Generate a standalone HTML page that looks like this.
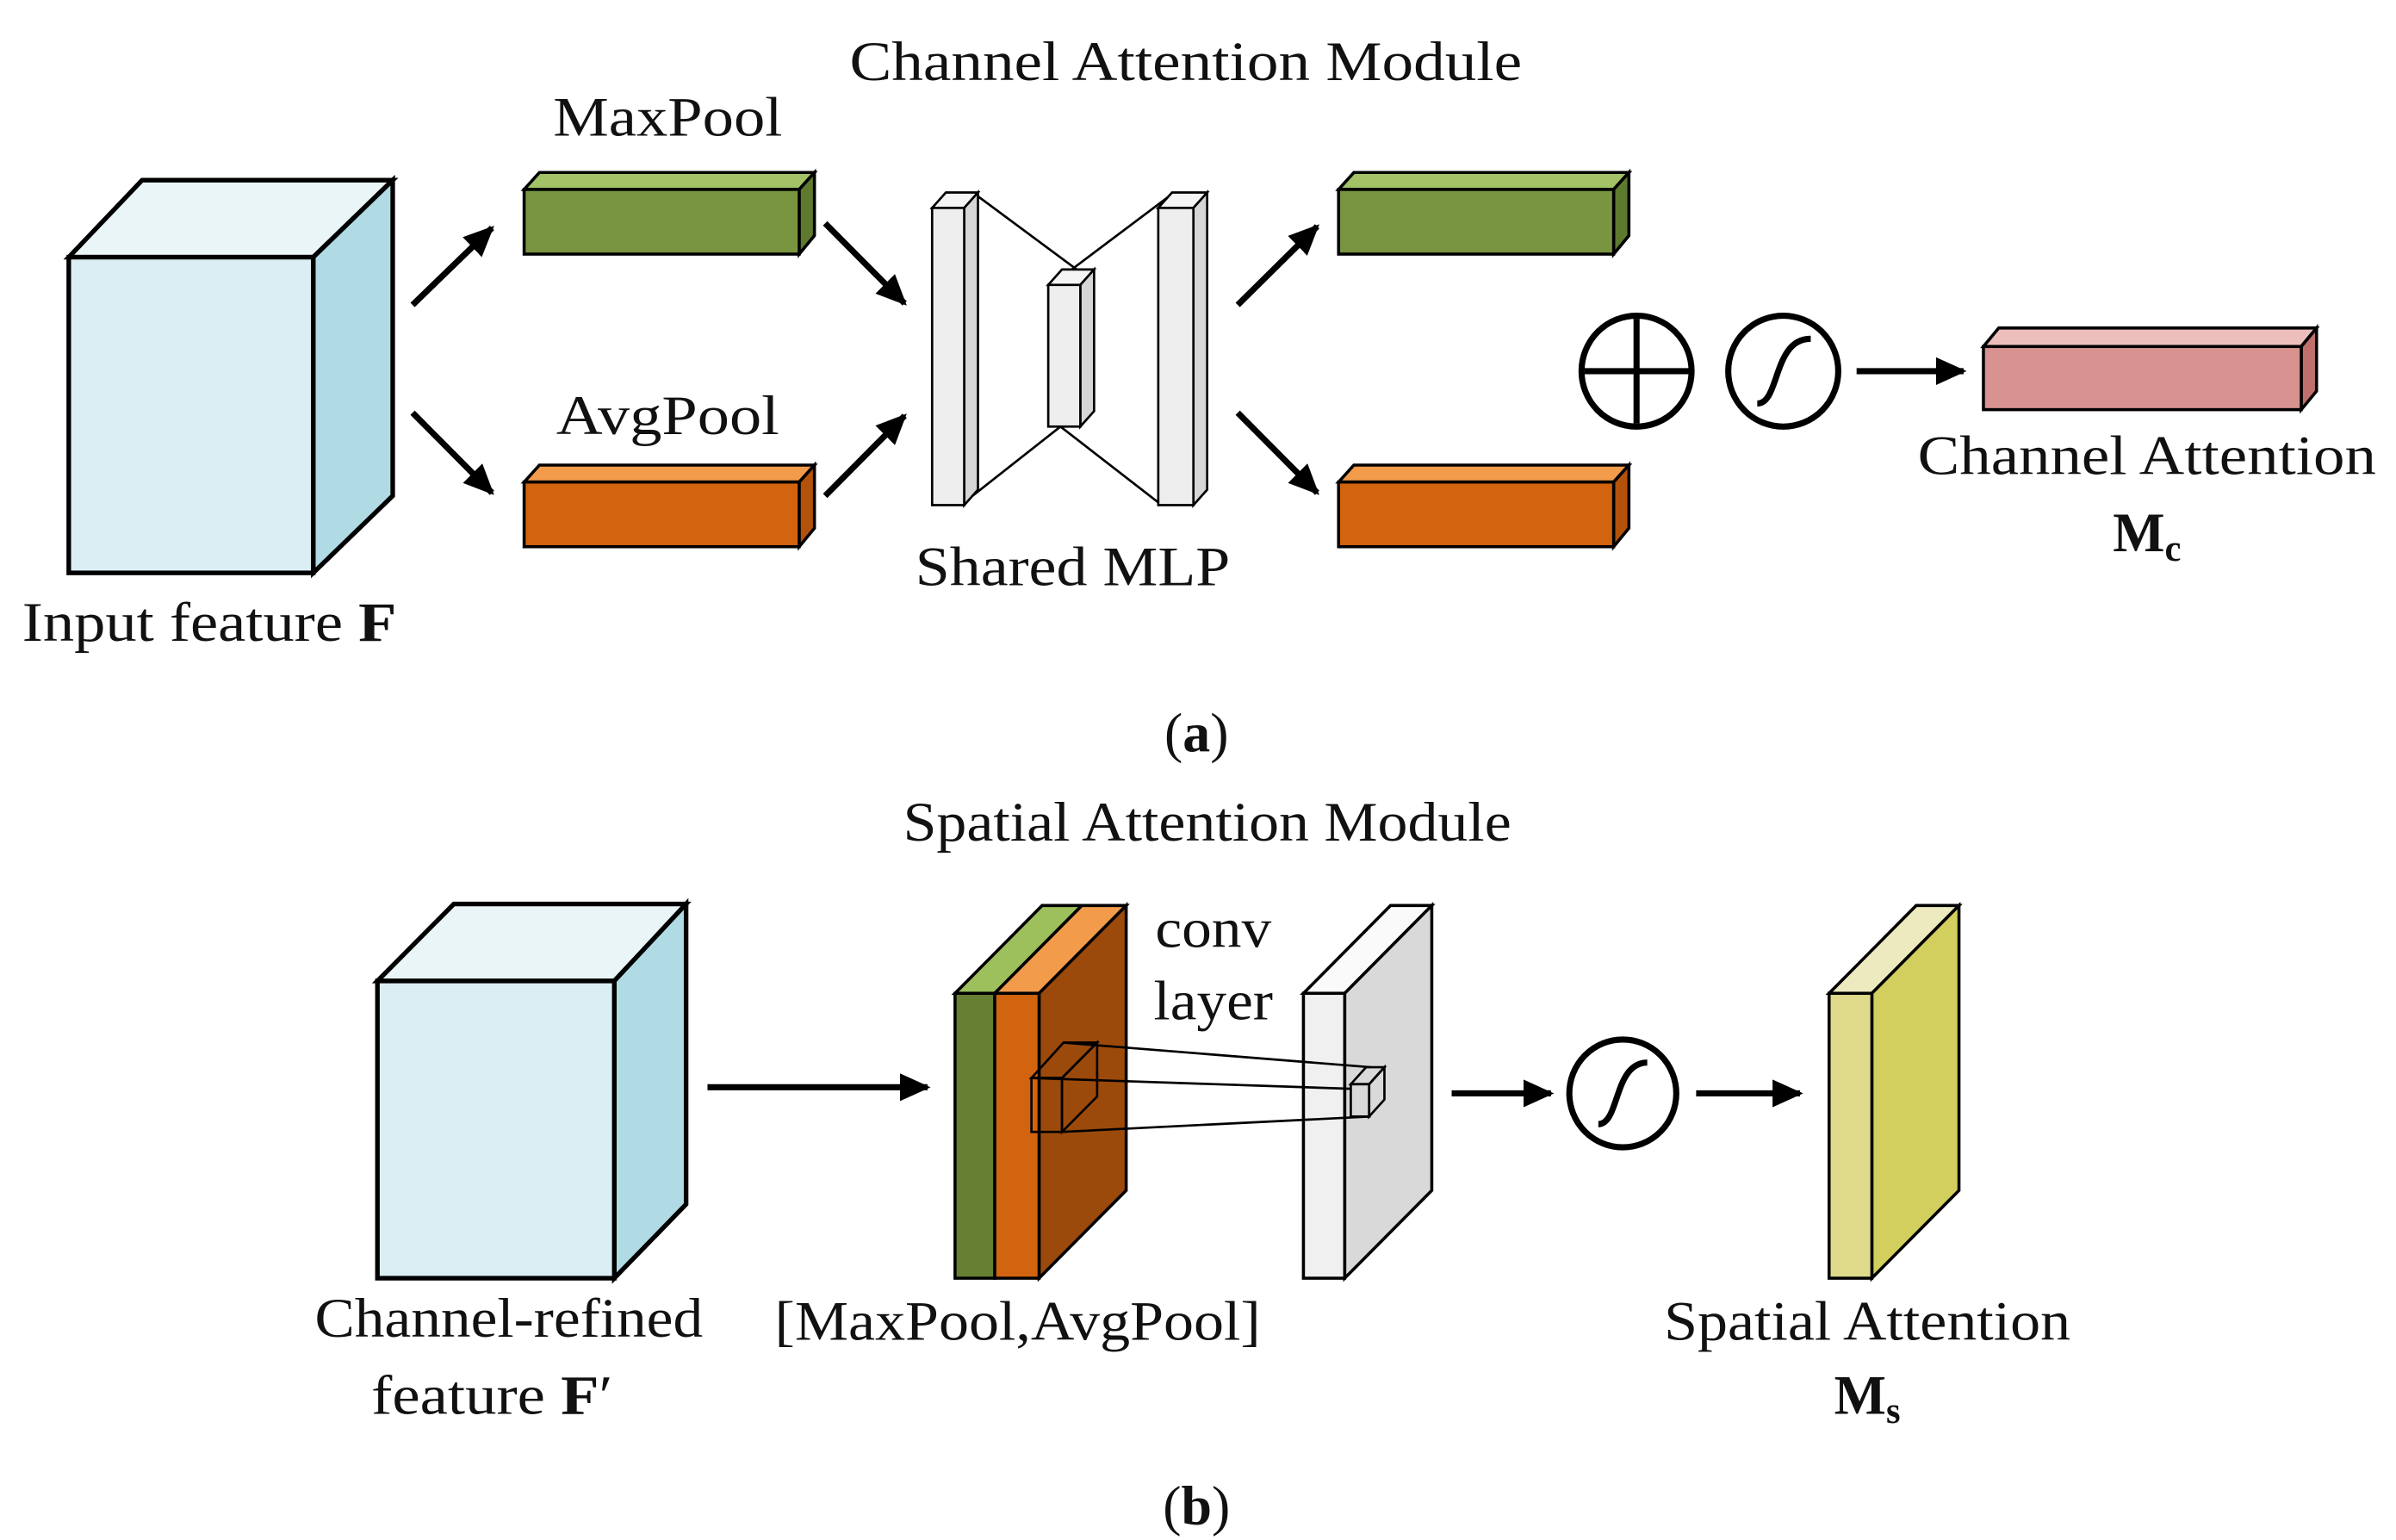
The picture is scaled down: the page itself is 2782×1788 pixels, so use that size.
<!DOCTYPE html>
<html><head><meta charset="utf-8"><style>html,body{margin:0;padding:0;background:#fff}svg{display:block}</style></head>
<body>
<svg width="2782" height="1788" viewBox="0 0 1568 1000" preserveAspectRatio="none" xmlns="http://www.w3.org/2000/svg">
<defs>
<marker id="ah" markerWidth="10" markerHeight="10" refX="7" refY="5" orient="auto" markerUnits="userSpaceOnUse" viewBox="0 0 10 10">
<path d="M0,0 L10,5 L0,10 Z" fill="#000"/></marker>
<marker id="ah2" markerWidth="20" markerHeight="18" refX="18" refY="9" orient="auto" markerUnits="userSpaceOnUse" viewBox="0 0 20 18">
<path d="M0,0 L20,9 L0,18 Z" fill="#000"/></marker>
</defs>
<g font-family="Liberation Serif, serif" font-size="36" fill="#111" text-anchor="middle">
<text x="776" y="52" textLength="440" lengthAdjust="spacingAndGlyphs">Channel Attention Module</text>
<text x="437" y="88" textLength="150" lengthAdjust="spacingAndGlyphs">MaxPool</text>
<text x="437" y="282" textLength="146" lengthAdjust="spacingAndGlyphs">AvgPool</text>
<text x="137" y="416" textLength="245" lengthAdjust="spacingAndGlyphs">Input feature <tspan font-weight="bold">F</tspan></text>
<text x="702" y="380" textLength="206" lengthAdjust="spacingAndGlyphs">Shared MLP</text>
<text x="1405" y="308" textLength="300" lengthAdjust="spacingAndGlyphs">Channel Attention</text>
<text x="1405" y="358" font-weight="bold">M<tspan font-size="24" dy="6">c</tspan></text>
<text x="783" y="488">(<tspan font-weight="bold">a</tspan>)</text>
<text x="790" y="546" textLength="398" lengthAdjust="spacingAndGlyphs">Spatial Attention Module</text>
<text x="333" y="868" textLength="254" lengthAdjust="spacingAndGlyphs">Channel-refined</text>
<text x="322" y="918" textLength="158" lengthAdjust="spacingAndGlyphs">feature <tspan font-weight="bold">F</tspan>′</text>
<text x="666" y="870" textLength="318" lengthAdjust="spacingAndGlyphs">[MaxPool,AvgPool]</text>
<text x="1222" y="870" textLength="266" lengthAdjust="spacingAndGlyphs">Spatial Attention</text>
<text x="1222" y="918" font-weight="bold">M<tspan font-size="24" dy="6">s</tspan></text>
<text x="783" y="990">(<tspan font-weight="bold">b</tspan>)</text>
<text x="794" y="615" textLength="76" lengthAdjust="spacingAndGlyphs">conv</text>
<text x="794" y="662" textLength="78" lengthAdjust="spacingAndGlyphs">layer</text>
</g>
<g stroke="#000" stroke-width="3" stroke-linejoin="miter">
<!-- big cube top -->
<polygon points="45,167 93,117 257,117 205,167" fill="#eaf5f8"/>
<polygon points="205,167 257,117 257,322 205,372" fill="#b0dbe5"/>
<rect x="45" y="167" width="160" height="205" fill="#dbeef4"/>
<!-- green bar -->
<g stroke-width="2">
<polygon points="343,123 353,112 533,112 523,123" fill="#a3c167"/>
<polygon points="523,123 533,112 533,153 523,165" fill="#5e7a2e"/>
<rect x="343" y="123" width="180" height="42" fill="#799540"/>
<polygon points="343,313 353,302 533,302 523,313" fill="#f29b4b"/>
<polygon points="523,313 533,302 533,343 523,355" fill="#b2520b"/>
<rect x="343" y="313" width="180" height="42" fill="#d2640f"/>
<polygon points="876,123 886,112 1066,112 1056,123" fill="#a3c167"/>
<polygon points="1056,123 1066,112 1066,153 1056,165" fill="#5e7a2e"/>
<rect x="876" y="123" width="180" height="42" fill="#799540"/>
<polygon points="876,313 886,302 1066,302 1056,313" fill="#f29b4b"/>
<polygon points="1056,313 1066,302 1066,343 1056,355" fill="#b2520b"/>
<rect x="876" y="313" width="180" height="42" fill="#d2640f"/>
<polygon points="1298,225 1308,213 1516,213 1506,225" fill="#ecbfbd"/>
<polygon points="1506,225 1516,213 1516,254 1506,266" fill="#c0706c"/>
<rect x="1298" y="225" width="208" height="41" fill="#d89390"/>
</g>
<!-- MLP -->
<g stroke-width="1.5" fill="none">
<line x1="638" y1="126" x2="706" y2="176"/>
<line x1="767" y1="126" x2="700" y2="176"/>
<line x1="630" y1="327" x2="694" y2="277"/>
<line x1="759" y1="327" x2="694" y2="277"/>
</g>
<g stroke-width="1.5">
<polygon points="610,135 619,125 640,125 631,135" fill="#f5f5f5"/>
<polygon points="631,135 640,125 640,318 631,328" fill="#d6d6d6"/>
<rect x="610" y="135" width="21" height="193" fill="#eeeeee"/>
<polygon points="686,185 695,175 716,175 707,185" fill="#f5f5f5"/>
<polygon points="707,185 716,175 716,267 707,277" fill="#d6d6d6"/>
<rect x="686" y="185" width="21" height="92" fill="#eeeeee"/>
<polygon points="758,135 767,125 790,125 781,135" fill="#f5f5f5"/>
<polygon points="781,135 790,125 790,318 781,328" fill="#d6d6d6"/>
<rect x="758" y="135" width="23" height="193" fill="#eeeeee"/>
</g>
<!-- arrows top -->
<g stroke-width="4" fill="none">
<line x1="270" y1="198" x2="322" y2="148" marker-end="url(#ah2)"/>
<line x1="270" y1="268" x2="322" y2="320" marker-end="url(#ah2)"/>
<line x1="540" y1="145" x2="592" y2="197" marker-end="url(#ah2)"/>
<line x1="540" y1="322" x2="592" y2="270" marker-end="url(#ah2)"/>
<line x1="810" y1="198" x2="862" y2="147" marker-end="url(#ah2)"/>
<line x1="810" y1="268" x2="862" y2="320" marker-end="url(#ah2)"/>
<line x1="1215" y1="241" x2="1285" y2="241" marker-end="url(#ah2)"/>
</g>
<g stroke-width="4" fill="none">
<circle cx="1071" cy="241" r="36"/>
<line x1="1037" y1="241" x2="1105" y2="241"/>
<line x1="1071" y1="207" x2="1071" y2="275"/>
<circle cx="1167" cy="241" r="36"/>
<path d="M1150,262 C1165,262 1160,220 1185,220"/>
</g>
<!-- bottom cube -->
<polygon points="247,637 297,587 449,587 402,637" fill="#eaf5f8"/>
<polygon points="402,637 449,587 449,782 402,830" fill="#b0dbe5"/>
<rect x="247" y="637" width="155" height="193" fill="#dbeef4"/>
<g stroke-width="4" fill="none">
<line x1="463" y1="706" x2="607" y2="706" marker-end="url(#ah2)"/>
<line x1="950" y1="710" x2="1015" y2="710" marker-end="url(#ah2)"/>
<line x1="1110" y1="710" x2="1178" y2="710" marker-end="url(#ah2)"/>
<circle cx="1062" cy="710" r="35"/>
<path d="M1046,730 C1060,730 1056,690 1078,690"/>
</g>
<!-- layered -->
<g stroke-width="2">
<polygon points="625,645 682,588 708,588 651,645" fill="#9dbf5c"/>
<polygon points="651,645 708,588 737,588 680,645" fill="#f29b4b"/>
<polygon points="680,645 737,588 737,773 680,830" fill="#9b4a0c"/>
<rect x="625" y="645" width="26" height="185" fill="#677f32"/>
<rect x="651" y="645" width="29" height="185" fill="#d2640f"/>
<polygon points="853,645 910,588 937,588 880,645" fill="#fafafa"/>
<polygon points="880,645 937,588 937,773 880,830" fill="#d9d9d9"/>
<rect x="853" y="645" width="27" height="185" fill="#f0f0f0"/>
<polygon points="1197,645 1254,588 1282,588 1225,645" fill="#eeeac0"/>
<polygon points="1225,645 1282,588 1282,773 1225,830" fill="#d3cf5e"/>
<rect x="1197" y="645" width="28" height="185" fill="#dfdb8a"/>
</g>
<g stroke-width="1.5" fill="none">
<rect x="675" y="700" width="20" height="35"/>
<polygon points="675,700 696,677 718,677 695,700"/>
<polygon points="695,700 718,677 718,712 695,735"/>
<line x1="696" y1="677" x2="897" y2="693"/>
<line x1="675" y1="700" x2="884" y2="707"/>
<line x1="695" y1="735" x2="897" y2="725"/>
<rect x="884" y="704" width="12" height="21"/>
<polygon points="884,704 894,693 906,693 896,704"/>
<polygon points="896,704 906,693 906,714 896,725"/>
</g>
</g>
</svg>
</body></html>
